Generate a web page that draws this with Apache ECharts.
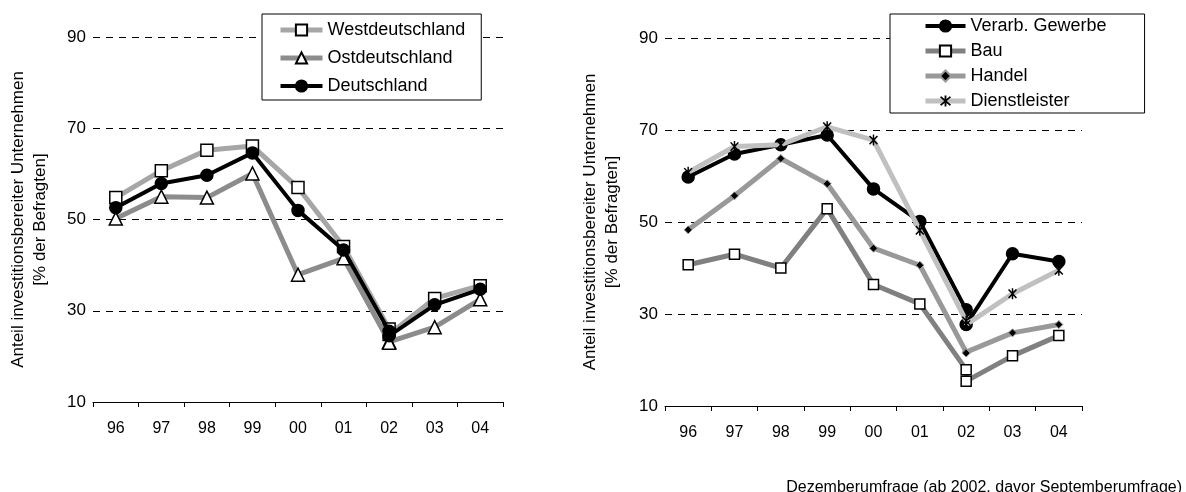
<!DOCTYPE html>
<html>
<head>
<meta charset="utf-8">
<script src="https://cdn.jsdelivr.net/npm/echarts@6/dist/echarts.min.js"></script>
<style>html,body{margin:0;padding:0;background:#fff}#c{width:1186px;height:492px}</style>
</head>
<body>
<div id="c"></div>
<script>
// Categories (survey years) and the year of each data point (2002 has two surveys)
const categories = ['96','97','98','99','00','01','02','03','04'];
const pointYears = ['96','97','98','99','00','01','02','02','03','04'];
const yTicks = [10, 30, 50, 70, 90];

// Left chart: regions
const westdeutschland = [54.8, 60.7, 65.2, 66.1, 57.0, 44.1, 26.0, 24.8, 32.7, 35.5];
const ostdeutschland  = [50.2, 55.0, 54.8, 60.1, 37.9, 41.5, 23.2, 23.0, 26.4, 32.5];
const deutschland     = [52.6, 57.9, 59.7, 64.6, 52.0, 43.3, 25.5, 24.5, 31.3, 34.7];

// Right chart: sectors
const verarbGewerbe   = [59.8, 64.8, 66.8, 68.9, 57.2, 50.1, 30.9, 27.7, 43.1, 41.4];
const bau             = [40.7, 43.0, 40.0, 52.9, 36.4, 32.2, 17.9, 15.4, 20.9, 25.3];
const handel          = [48.3, 55.7, 63.8, 58.3, 44.3, 40.6, 21.7, 21.5, 25.9, 27.7];
const dienstleister   = [60.8, 66.4, 66.8, 70.7, 67.8, 48.2, 28.5, 27.7, 34.4, 39.5];

const yAxisTitle = 'Anteil investitionsbereiter Unternehmen\n[% der Befragten]';
const footnote = 'Dezemberumfrage (ab 2002, davor Septemberumfrage)';

function pts(values) {
  return values.map((v, i) => [categories.indexOf(pointYears[i]), v]);
}

const FONT = '"Liberation Sans", Arial, sans-serif';
const asterisk = 'path://M-1.2,-10L1.2,-10L1.2,10L-1.2,10Z M7.4,6.8L5.5,8.5L-7.4,-6.8L-5.5,-8.5Z M-5.5,8.5L-7.4,6.8L5.5,-8.5L7.4,-6.8Z';

function xAxisDef(gridIndex) {
  return {
    type: 'category', gridIndex, data: categories, boundaryGap: true,
    axisLine: { show: true, lineStyle: { color: '#000', width: 1 } },
    axisTick: { show: true, length: 5, lineStyle: { color: '#000' } },
    axisLabel: { color: '#000', fontSize: 16, fontFamily: FONT, margin: 19 },
    splitLine: { show: false }
  };
}
function yAxisDef(gridIndex) {
  return {
    type: 'value', gridIndex, min: yTicks[0], max: yTicks[yTicks.length - 1], interval: 20,
    axisLine: { show: false }, axisTick: { show: false },
    axisLabel: { color: '#000', fontSize: 17, fontFamily: FONT, margin: 7 },
    splitLine: { show: true, lineStyle: { color: '#000', type: [7, 6], width: 1 } },
    name: yAxisTitle, nameLocation: 'middle', nameGap: 42, nameRotate: 90,
    nameTextStyle: { color: '#000', fontSize: 17, fontFamily: FONT, lineHeight: 22, align: 'center' }
  };
}

function lineSeries(name, values, xi, color, width, symbol, size, fill, border, bw, z) {
  return {
    name, type: 'line', xAxisIndex: xi, yAxisIndex: xi, data: pts(values),
    showAllSymbol: true, symbol, symbolSize: size, z: z,
    lineStyle: { color, width },
    itemStyle: { color: fill, borderColor: border, borderWidth: bw },
    emphasis: { disabled: true }, animation: false
  };
}

const legendCommon = {
  orient: 'vertical', itemHeight: 14,
  borderColor: '#000', borderWidth: 1, backgroundColor: '#fff',
  textStyle: { color: '#000', fontSize: 18, fontFamily: FONT, lineHeight: 18 },
  lineStyle: { width: 'inherit' },
  selectedMode: false
};

const option = {
  backgroundColor: '#fff',
  animation: false,
  grid: [
    { left: 93, right: 683, top: 37, bottom: 90, containLabel: false },
    { left: 665, right: 104, top: 38, bottom: 86, containLabel: false }
  ],
  xAxis: [xAxisDef(0), xAxisDef(1)],
  yAxis: [yAxisDef(0), yAxisDef(1)],
  legend: [
    Object.assign({}, legendCommon, {
      data: ['Westdeutschland', 'Ostdeutschland', 'Deutschland'],
      left: 262, top: 14, padding: [7, 16, 5, 16], itemGap: 10, itemWidth: 42
    }),
    Object.assign({}, legendCommon, {
      data: ['Verarb. Gewerbe', 'Bau', 'Handel', 'Dienstleister'],
      left: 890, top: 14, padding: [3, 38, 3, 33], itemGap: 7, itemWidth: 40
    })
  ],
  graphic: [{
    type: 'text', right: 4, top: 480,
    style: { text: footnote, fill: '#000', font: '16px ' + FONT }
  }],
  series: [
    lineSeries('Westdeutschland', westdeutschland, 0, '#a6a6a6', 5, 'rect', 12, '#fff', '#000', 1.5, 2),
    lineSeries('Ostdeutschland', ostdeutschland, 0, '#8c8c8c', 5, 'triangle', 13, '#fff', '#000', 1.5, 3),
    lineSeries('Deutschland', deutschland, 0, '#000', 4, 'circle', 12, '#000', '#000', 1.5, 4),
    lineSeries('Verarb. Gewerbe', verarbGewerbe, 1, '#000', 4, 'circle', 12, '#000', '#000', 1.5, 2),
    lineSeries('Bau', bau, 1, '#808080', 5, 'rect', 10, '#fff', '#000', 1.5, 3),
    lineSeries('Handel', handel, 1, '#999999', 5, 'diamond', 8, '#000', '#999999', 1, 4),
    lineSeries('Dienstleister', dienstleister, 1, '#c0c0c0', 5, asterisk, [9, 11], '#000', '#000', 0, 5)
  ]
};

const chart = echarts.init(document.getElementById('c'), null, { renderer: 'canvas' });
chart.setOption(option);
</script>
</body>
</html>
